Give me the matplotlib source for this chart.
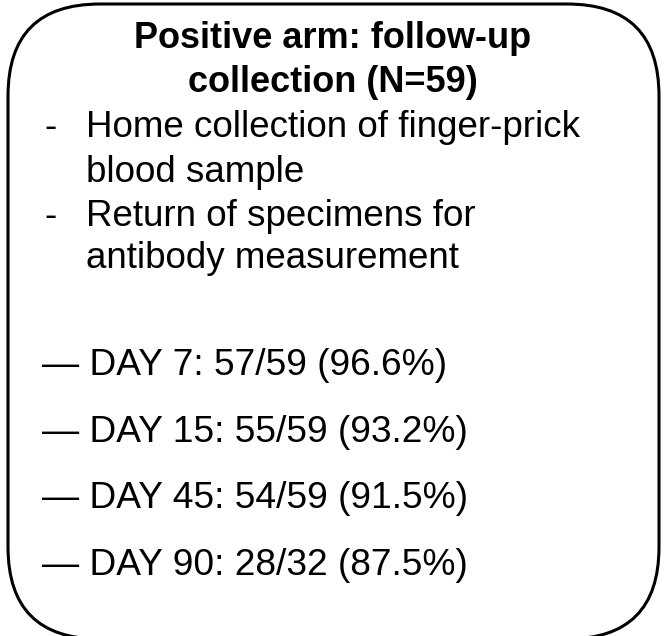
import matplotlib.pyplot as plt
from matplotlib.patches import FancyBboxPatch

plt.rcParams['font.family'] = ['Liberation Sans', 'DejaVu Sans']

# Datos del recuadro
titulo = ["Positive arm: follow-up", "collection (N=59)"]
vinetas = [
    ["Home collection of finger-prick", "blood sample"],
    ["Return of specimens for", "antibody measurement"],
]
dias = [7, 15, 45, 90]
devueltas = [57, 55, 54, 28]
totales = [59, 59, 59, 32]
porcentajes = ["96.6%", "93.2%", "91.5%", "87.5%"]

W, H = 664, 636
fig = plt.figure(figsize=(W / 100, H / 100), dpi=100)
ax = fig.add_axes([0, 0, 1, 1])
ax.set_xlim(0, W)
ax.set_ylim(H, 0)
ax.axis('off')

# Recuadro redondeado (el borde inferior queda cortado por la imagen)
caja = FancyBboxPatch((8, 4), 651, 635, boxstyle="round,pad=0,rounding_size=92",
                      facecolor='white', edgecolor='black', linewidth=2.2)
ax.add_patch(caja)

# Titulo
for y, linea in zip([48, 92], titulo):
    ax.text(333, y, linea, ha='center', va='baseline', fontsize=26,
            fontweight='bold')

# Vinetas
lineas_y = [[137, 182], [226, 268]]
for bloque, ys in zip(vinetas, lineas_y):
    ax.text(44, ys[0], "-", ha='left', va='baseline', fontsize=26.5)
    for linea, y in zip(bloque, ys):
        ax.text(86, y, linea, ha='left', va='baseline', fontsize=26.5)

# Seguimiento por dia
for i, (d, n, t, p) in enumerate(zip(dias, devueltas, totales, porcentajes)):
    yb = 375 + i * 66.7
    ax.text(42, yb, f"\u2014 DAY {d}: {n}/{t} ({p})", ha='left', va='baseline',
            fontsize=26.7)

fig.savefig("out.png", dpi=100)
